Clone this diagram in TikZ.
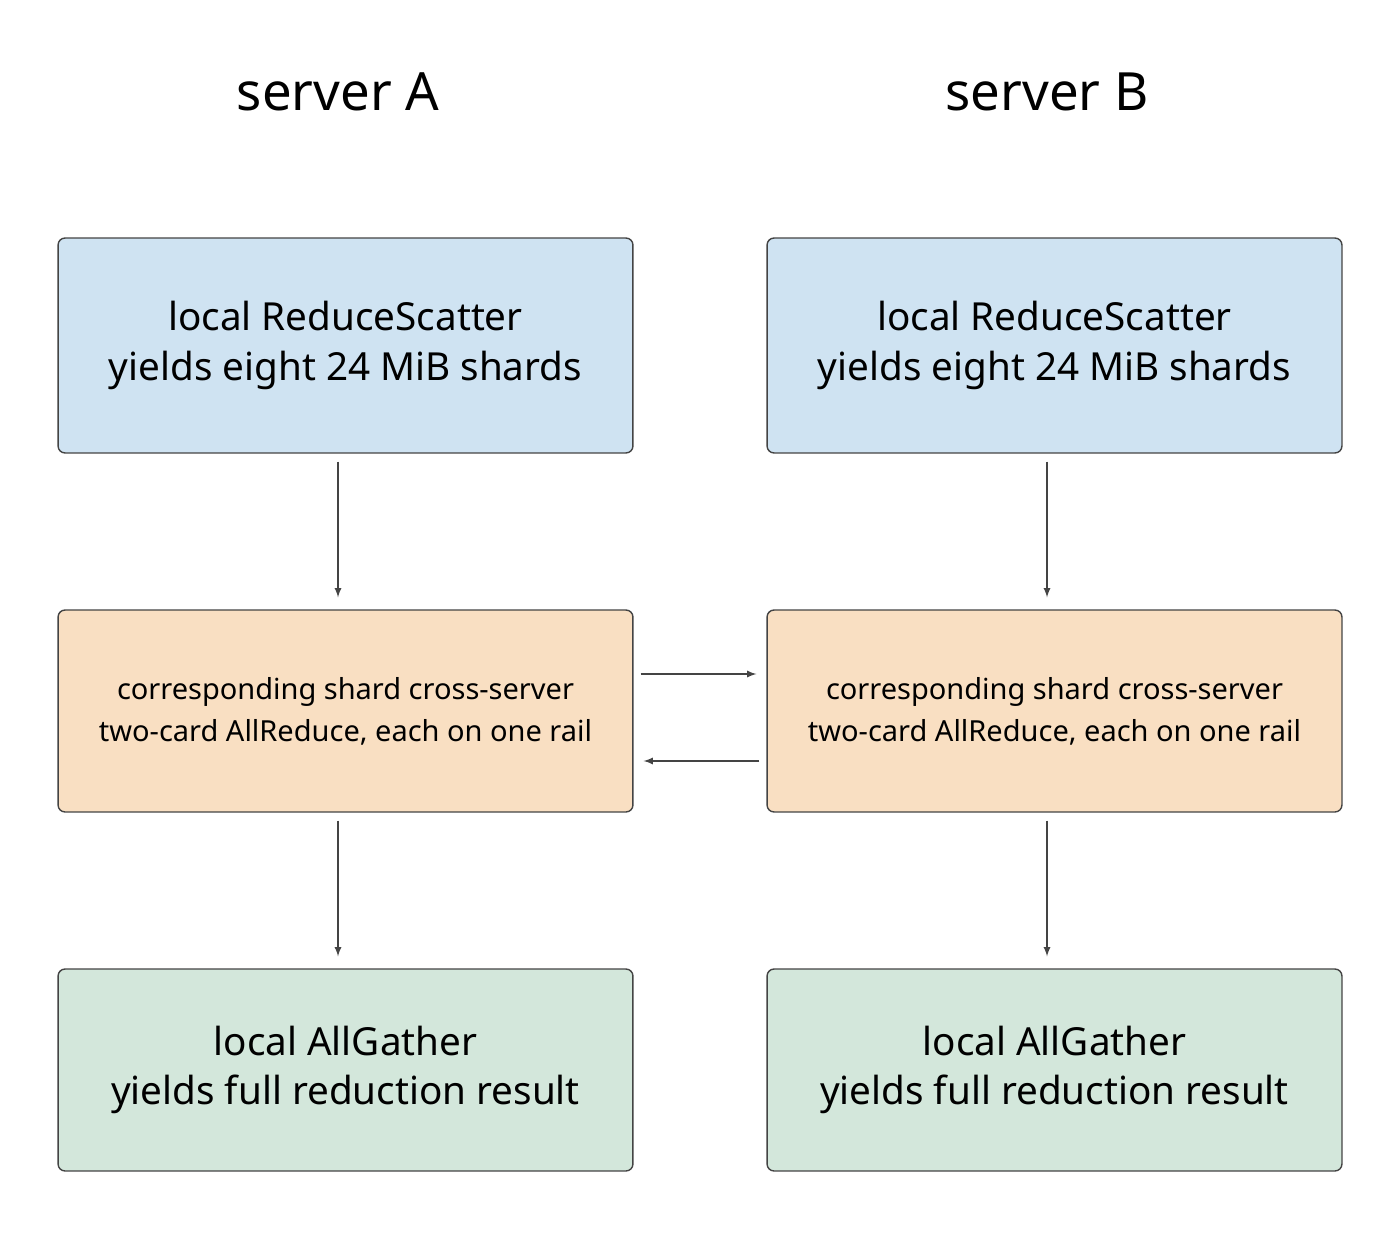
\documentclass[tikz,border=0pt]{standalone}
\usepackage{fontspec}
\setmainfont{Noto Sans}
\usetikzlibrary{positioning}
\definecolor{edgegray}{HTML}{444444}
\definecolor{stepblue}{HTML}{CFE3F2}
\definecolor{steporange}{HTML}{F9DFC2}
\definecolor{stepgreen}{HTML}{D3E7DB}
\tikzset{
    stage/.style={
           rectangle,
           rounded corners=4pt,
           draw=edgegray, thick,
           minimum width=11.5cm,
           align=center,
           },
    flow/.style={->, draw=edgegray, thick, >=latex},
}
\begin{document}
\begin{tikzpicture}[x=0.02cm,y=-0.02cm]
    \useasboundingbox (0,0) rectangle (1400,1250);
    % titles
    \node[font=\fontsize{30}{36}\selectfont] (titleA) at (338,92) {server A};
    \node[font=\fontsize{30}{36}\selectfont] (titleB) at (1047,92) {server B};

    % server A
    \node[stage, fill=stepblue, minimum height=4.3cm,
    font=\fontsize{22}{28}\selectfont] (scatterA) at (345.5,345.5)
    {local ReduceScatter\\yields eight 24 MiB shards};
    \node[stage, fill=steporange, minimum height=4.04cm,
    font=\fontsize{16.5}{24}\selectfont] (reduceA) at (345.5,711)
    {corresponding shard cross-server\\two-card AllReduce, each on one rail};
    \node[stage, fill=stepgreen, minimum height=4.04cm,
    font=\fontsize{22}{28}\selectfont] (gatherA) at (345.5,1070)
    {local AllGather\\yields full reduction result};

    % server B
    \node[stage, fill=stepblue, minimum height=4.3cm,
    font=\fontsize{22}{28}\selectfont] (scatterB) at (1054.5,345.5)
    {local ReduceScatter\\yields eight 24 MiB shards};
    \node[stage, fill=steporange, minimum height=4.04cm,
    font=\fontsize{16.5}{24}\selectfont] (reduceB) at (1054.5,711)
    {corresponding shard cross-server\\two-card AllReduce, each on one rail};
    \node[stage, fill=stepgreen, minimum height=4.04cm,
    font=\fontsize{22}{28}\selectfont] (gatherB) at (1054.5,1070)
    {local AllGather\\yields full reduction result};

    % flows
    \draw[flow] ([xshift=-0.15cm,yshift=-0.16cm]scatterA.south) -- ([xshift=-0.15cm,yshift=0.24cm]reduceA.north);
    \draw[flow] ([xshift=-0.15cm,yshift=-0.16cm]reduceA.south) -- ([xshift=-0.15cm,yshift=0.24cm]gatherA.north);
    \draw[flow] ([xshift=-0.15cm,yshift=-0.16cm]scatterB.south) -- ([xshift=-0.15cm,yshift=0.24cm]reduceB.north);
    \draw[flow] ([xshift=-0.15cm,yshift=-0.16cm]reduceB.south) -- ([xshift=-0.15cm,yshift=0.24cm]gatherB.north);
    \draw[flow] ([xshift=0.14cm,yshift=0.74cm]reduceA.east) -- ([xshift=-0.2cm,yshift=0.74cm]reduceB.west);
    \draw[flow] ([xshift=-0.14cm,yshift=-1cm]reduceB.west) -- ([xshift=0.2cm,yshift=-1cm]reduceA.east);
\end{tikzpicture}
\end{document}
